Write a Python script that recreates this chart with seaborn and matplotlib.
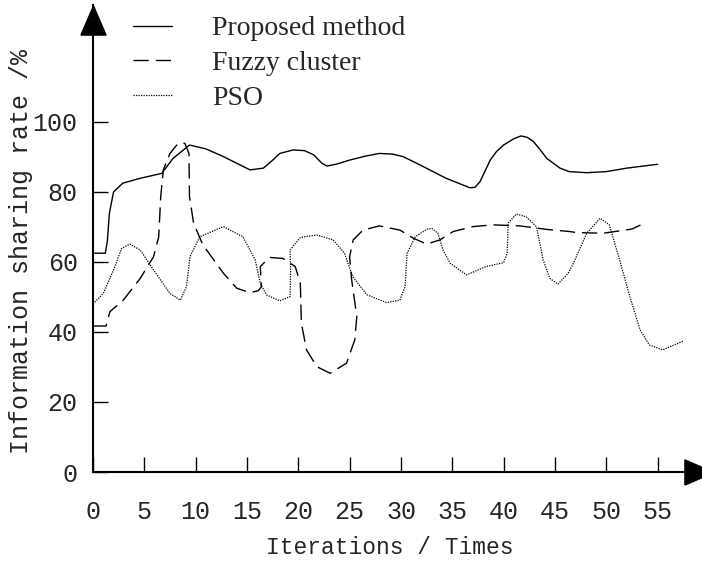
import pandas as pd
import numpy as np
import seaborn as sns
import matplotlib.pyplot as plt
from matplotlib.transforms import offset_copy

# values
prop_x = [0, 1.2, 1.4, 1.6, 2.0, 2.9, 4.6, 6.7, 7.8, 9.4, 11.0, 12.7, 14.0, 15.3, 16.6,
          17.4, 18.2, 19.5, 20.6, 21.5, 22.3, 22.8, 23.8, 25.0, 26.5, 27.9, 29.2, 30.2,
          31.8, 32.8, 34.4, 35.6, 36.7, 37.2, 37.7, 38.2, 38.7, 39.3, 40.0, 41.0, 41.7,
          42.3, 42.9, 43.5, 44.2, 45.5, 46.4, 48.1, 50.0, 52.0, 55.0]
prop_y = [62.5, 62.5, 66, 74, 80, 82.5, 83.9, 85.3, 89.6, 93.4, 92.3, 90.1, 88.2, 86.3, 86.8,
          88.8, 91, 92, 91.8, 90.6, 88.2, 87.4, 88.0, 89.1, 90.2, 91, 90.8, 90.1,
          87.8, 86.3, 83.9, 82.5, 81.2, 81.3, 82.9, 86.0, 89.1, 91.5, 93.4, 95.2, 96,
          95.6, 94.4, 92.3, 89.6, 86.8, 85.8, 85.5, 85.8, 86.8, 87.9]

fuzzy_x = [0, 1.27, 1.65, 2.95, 4.6, 5.9, 6.4, 6.6, 6.85, 7.5, 8.3, 8.95, 9.35, 9.4, 9.8,
           10.7, 12.7, 14.0, 15.3, 16.1, 16.4, 16.3, 17.2, 18.5, 19.7, 20.2, 20.3, 20.8,
           21.8, 23.1, 24.7, 25.5, 25.7, 25.2, 25.0, 25.35, 26.3, 27.9, 29.9, 31.2, 32.5,
           33.8, 35.1, 37.0, 39.0, 41.6, 44.2, 46.4, 47.1, 49.7, 52.5, 53.75]
fuzzy_y = [41.7, 41.7, 45.8, 49.1, 55.3, 61.5, 67.2, 78.7, 86.3, 91, 93.9, 93.9, 91, 78.7, 71.1,
           64.9, 56.8, 52.5, 51.2, 51.8, 52.9, 58.7, 61.3, 61, 58.7, 53.9, 42.5, 34.9,
           30.1, 28.2, 31.1, 37.7, 44.4, 54.9, 61.5, 66.3, 69.1, 70.3, 69.1, 66.8, 65.1,
           66.3, 68.7, 70.1, 70.6, 70.3, 69.3, 68.7, 68.4, 68.2, 69.4, 71.1]

pso_x = [0, 1.0, 2.0, 2.8, 3.6, 4.6, 5.9, 7.5, 8.5, 9.1, 9.45, 10.4, 12.7, 14.6, 15.8, 16.3,
         16.9, 18.2, 19.2, 19.25, 19.2, 20.2, 21.8, 23.4, 24.5, 25.3, 26.7, 28.6, 29.9, 30.4,
         30.6, 31.4, 32.5, 33.0, 33.6, 34.1, 34.8, 36.4, 38.3, 40.0, 40.35, 40.45, 41.25,
         42.2, 43.2, 43.85, 44.5, 45.3, 46.3, 46.8, 48.1, 49.4, 50.3, 51.3, 52.3, 53.3,
         54.2, 55.5, 57.5]
pso_y = [48, 51, 57.7, 63.9, 65.1, 63.4, 57.7, 51, 49.1, 52.9, 61.5, 67.2, 70.1, 67.2, 60.6, 53.9,
         50.6, 48.9, 50.1, 57.7, 63.4, 67, 67.7, 66.3, 62.5, 55.8, 50.6, 48.4, 49.1, 52.9,
         62.5, 67.2, 69.3, 69.6, 68.2, 63.4, 59.6, 56.3, 58.7, 59.8, 62.5, 71.1, 73.7,
         72.9, 70.1, 60.6, 55.3, 53.7, 56.8, 59.6, 68.2, 72.5, 70.6, 60.6, 50.1, 40.6,
         36.3, 34.9, 37.4]

x_ticks = [0, 5, 10, 15, 20, 25, 30, 35, 40, 45, 50, 55]
y_ticks = [0, 20, 40, 60, 80, 100]

sns.set_style("ticks")
plt.rcParams['font.family'] = ['Liberation Mono', 'DejaVu Sans Mono']

fig = plt.figure(figsize=(7.02, 5.61), dpi=100)
ax = fig.add_axes([93 / 702, 89 / 561, 621 / 702, 467 / 561])

df_prop = pd.DataFrame({'it': prop_x, 'rate': prop_y})
df_fuzzy = pd.DataFrame({'it': fuzzy_x, 'rate': fuzzy_y})
df_pso = pd.DataFrame({'it': pso_x, 'rate': pso_y})

sns.lineplot(data=df_prop, x='it', y='rate', sort=False, estimator=None, ax=ax,
             color='black', lw=1.0, label='Proposed method')
sns.lineplot(data=df_fuzzy, x='it', y='rate', sort=False, estimator=None, ax=ax,
             color='black', lw=1.0, label='Fuzzy cluster')
ax.lines[-1].set_dashes((11, 5))
sns.lineplot(data=df_pso, x='it', y='rate', sort=False, estimator=None, ax=ax,
             color='black', lw=0.9, label='PSO')
ax.lines[-1].set_dashes((1, 1))

ax.set_xlim(0, 60.5)
ax.set_ylim(0, 133.4)
ax.set_xticks(x_ticks)
ax.set_yticks(y_ticks)
ax.tick_params(direction='in', length=11, width=1, color='black', labelsize=18)
ax.tick_params(axis='x', pad=20)
ax.tick_params(axis='y', pad=11)

for s in ['top', 'right']:
    ax.spines[s].set_visible(False)
for s in ['left', 'bottom']:
    ax.spines[s].set_linewidth(1.5)
    ax.spines[s].set_color('black')

# arrow heads at the ends of the axes
ms = 21
up = [(-0.43, -0.5), (0, 0.5), (0.43, -0.5), (-0.43, -0.5)]
right = [(-0.5, -0.43), (0.5, 0), (-0.5, 0.43), (-0.5, -0.43)]
ax.plot(0, 1, marker=up, ms=ms, color='black', clip_on=False,
        transform=offset_copy(ax.transAxes, fig=fig, y=-ms / 2, units='points'))
ax.plot(1, 0, marker=right, ms=ms, color='black', clip_on=False,
        transform=offset_copy(ax.transAxes, fig=fig, x=-ms / 2, units='points'))

ax.set_xlabel('Iterations / Times', fontsize=16.5)
ax.set_ylabel('Information sharing rate /%', fontsize=18)
ax.xaxis.set_label_coords(0.478, -0.137)
ax.yaxis.set_label_coords(-0.097, 0.473)

ax.legend(loc='upper left', bbox_to_anchor=(133 / 702, 1 - 16 / 561),
          bbox_transform=fig.transFigure, frameon=False,
          prop={'family': 'Liberation Serif', 'size': 20},
          handlelength=1.4, handletextpad=1.45, labelspacing=0.33,
          borderpad=0, borderaxespad=0)

plt.savefig('out.png', dpi=100)
